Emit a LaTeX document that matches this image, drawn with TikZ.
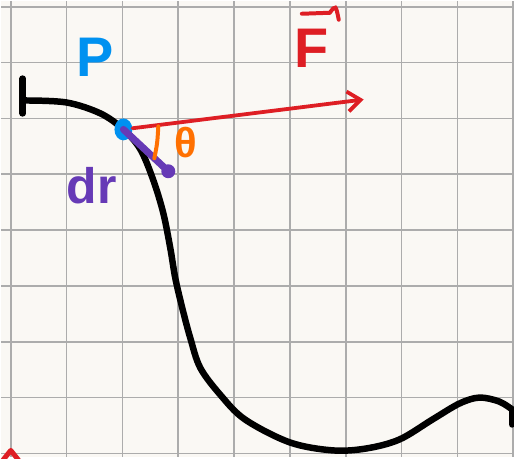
\documentclass[tikz,border=0pt]{standalone}
\usepackage{fontspec}
\setmainfont{Liberation Sans}
\usetikzlibrary{arrows.meta, shapes.geometric}
\definecolor{paper}{RGB}{250,248,244}
\definecolor{gridgray}{RGB}{172,172,172}
\definecolor{fred}{RGB}{222,30,36}
\definecolor{pblue}{RGB}{0,145,240}
\definecolor{drpurple}{RGB}{102,58,182}
\definecolor{thorange}{RGB}{255,112,0}

\begin{document}
\begin{tikzpicture}[x=1pt, y=-1pt,
    gridline/.style={line width=1.6pt, color=gridgray},
    curve/.style={line width=6.5pt, line cap=round, line join=round, color=black},
    force/.style={-{Straight Barb[length=13pt, width=20pt]}, line width=3.8pt, line cap=round, color=fred},
    disp/.style={line width=7pt, line cap=round, color=drpurple},
    angmark/.style={line width=4pt, line cap=round, color=thorange},
    ptdot/.style={ellipse, fill=pblue, inner sep=0pt, minimum width=18pt, minimum height=22pt},
    blob/.style={circle, fill=drpurple, inner sep=0pt, minimum size=14pt},
    lbl/.style={inner sep=0pt, font=\fontsize{56}{56}\selectfont\bfseries}
  ]
    % paper and grid
    \fill[paper] (0,0) rectangle (514,458);
    \foreach \gx in {10,66,...,514}
      \draw[gridline] (\gx,0) -- (\gx,458);
    \foreach \gy in {6,62,...,458}
      \draw[gridline] (0,\gy) -- (514,\gy);
    \useasboundingbox (0,0) rectangle (514,458);

    % the path
    \draw[curve] (22,78) -- (22,113);
    \draw[curve] plot[smooth, tension=0.55] coordinates {
      (25,100) (66,102) (100,113) (123,129) (140,149) (153,180) (163,213)
      (170,248) (175,278) (182,308) (190,338) (200,368) (220,395) (245,420)
      (290,443) (333,451) (367,449) (400,440) (433,420) (460,404) (480,398)
      (500,402) (513,410)};
    \draw[curve] (513,410) -- (513,425);

    % point and vectors
    \node[ptdot] (P) at (123,129) {};
    \coordinate (Ftip) at (364,99);
    \draw[force] (P) -- (Ftip);
    \node[blob] (drend) at (168,171) {};
    \draw[disp] (P.center) -- (drend.center);
    \draw[angmark] (158,126) .. controls (157,143) .. (154,158);

    % labels
    \node[lbl, text=pblue]    (Plbl)  at (95,57)   {P};
    \node[lbl, text=fred]     (Flbl)  at (312,48)  {F};
    \draw[angmark, color=fred] ([shift={(-10,-35)}]Flbl.center) -- ([shift={(18,-36)}]Flbl.center)
      .. controls ([shift={(24,-44)}]Flbl.center) .. ([shift={(27,-29)}]Flbl.center);
    \node[lbl, text=drpurple, font=\fontsize{50}{50}\selectfont\bfseries] (drlbl) at (91,185) {dr};
    \node[lbl, text=thorange, font=\fontsize{42}{42}\selectfont\bfseries] (thlbl) at (186,142) {θ};

    % cut-off mark in the corner
    \draw[line width=5pt, color=fred, line join=round] (2,461) -- (10,451) -- (18,461);
\end{tikzpicture}
\end{document}
